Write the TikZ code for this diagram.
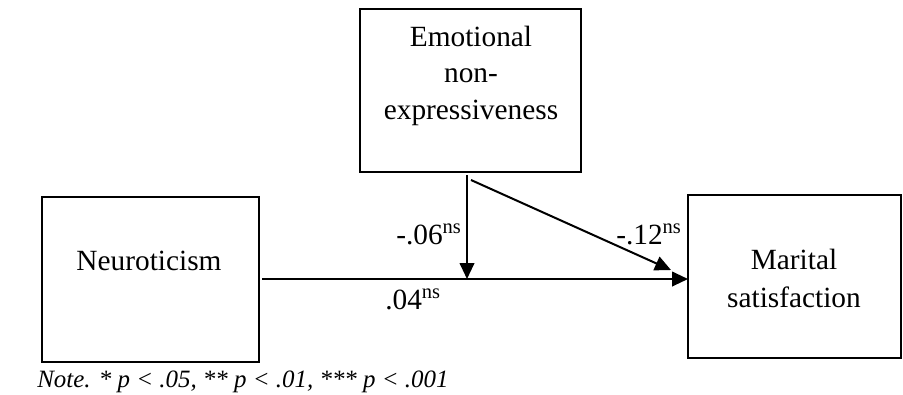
\documentclass[tikz,border=0pt]{standalone}
\usepackage{fontspec}
\setmainfont{Liberation Serif}
\usetikzlibrary{arrows.meta}
\begin{document}
\begin{tikzpicture}[x=0.75pt,y=-0.75pt,
  box/.style={draw,line width=1.5pt,inner sep=0pt},
  lbl/.style={font=\fontsize{22}{27}\selectfont,inner sep=0pt},
  coef/.style={font=\fontsize{22}{27}\selectfont,inner sep=0pt,anchor=base west},
  arr/.style={line width=1.5pt,-{Triangle[length=12pt,width=11pt]}}]
\useasboundingbox (0,0) rectangle (903,394);
% boxes
\node[box,minimum width=221*0.75pt,minimum height=163*0.75pt] (em) at (470.5,90.5) {};
\node[box,minimum width=217*0.75pt,minimum height=165*0.75pt] (ne) at (150.5,279.5) {};
\node[box,minimum width=213*0.75pt,minimum height=163*0.75pt] (ms) at (794.5,276.5) {};
% texts
\node[lbl,align=center,anchor=base,font=\fontsize{22}{27.2}\selectfont] (emt) at (471,119) {Emotional\\non-\\expressiveness};
\node[lbl,anchor=base] (net) at (149,270) {Neuroticism};
\node[lbl,align=center,anchor=base,font=\fontsize{22}{28.5}\selectfont] (mst) at (794,307) {Marital\\satisfaction};
% connectors
\coordinate (vs) at (467,175);
\coordinate (vm) at (467,279);
\coordinate (ds) at (471,180);
\coordinate (de) at (671,270);
\coordinate (hs) at (262,279);
\coordinate (he) at (688,279);
\draw[arr] (hs) -- (he);
\draw[arr] (vs) -- (vm);
\draw[arr] (ds) -- (de);
% coefficients
\node[coef] (c1) at (396,244) {-.06\textsuperscript{ns}};
\node[coef] (c2) at (616,244) {-.12\textsuperscript{ns}};
\node[coef] (c3) at (385,309) {.04\textsuperscript{ns}};
% note
\node[inner sep=0pt,anchor=base west,font=\fontsize{18.7}{22}\selectfont\itshape] (note) at (37,387) {Note. * p < .05, ** p < .01, *** p < .001};
\end{tikzpicture}
\end{document}
